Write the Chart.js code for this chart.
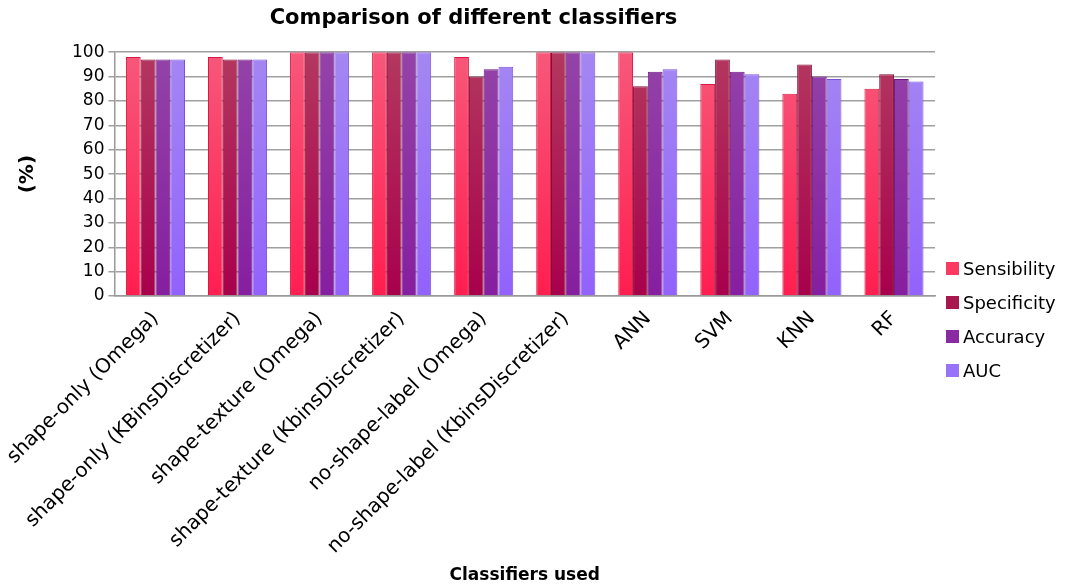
<!DOCTYPE html>
<html>
<head>
<meta charset="utf-8">
<script src="https://cdn.jsdelivr.net/npm/chart.js@4/dist/chart.umd.min.js"></script>
<style>
  html, body { margin: 0; padding: 0; background: #fff; }
  #wrap { position: relative; width: 1072px; height: 587px; }
  #legend { position: absolute; left: 946px; top: 251px; font: 18px 'DejaVu Sans', sans-serif; color: #000; }
  #legend div { height: 34px; display: flex; align-items: center; }
  #legend span.sw { display: inline-block; width: 13px; height: 13px; margin-right: 4px; }
</style>
</head>
<body>
<div id="wrap"><canvas id="chart"></canvas><div id="legend"></div></div>
<script>
// Classifier names (x axis)
const classifiers = [
  "shape-only (Omega)",
  "shape-only (KBinsDiscretizer)",
  "shape-texture (Omega)",
  "shape-texture (KbinsDiscretizer)",
  "no-shape-label (Omega)",
  "no-shape-label (KbinsDiscretizer)",
  "ANN", "SVM", "KNN", "RF"
];

// Scores in percent
const sensibility = [98, 98, 100, 100, 98, 100, 100, 87, 83, 85];
const specificity = [97, 97, 100, 100, 90, 100, 86, 97, 95, 91];
const accuracy    = [97, 97, 100, 100, 93, 100, 92, 92, 90, 89];
const auc         = [97, 97, 100, 100, 94, 100, 93, 91, 89, 88];

const FONT = "'DejaVu Sans', sans-serif";

// vertical gradient for the bars, lighter at the top
function grad(top, bottom) {
  return function (ctx) {
    const area = ctx.chart.chartArea;
    if (!area) return bottom;
    const g = ctx.chart.ctx.createLinearGradient(0, area.top, 0, area.bottom);
    g.addColorStop(0, top);
    g.addColorStop(1, bottom);
    return g;
  };
}

const series = [
  { label: "Sensibility", data: sensibility, top: "#f7587a", bottom: "#ff1e50", edge: "#d81a45", swatch: "#fa3a62" },
  { label: "Specificity", data: specificity, top: "#b3385f", bottom: "#a8004c", edge: "#80103a", swatch: "#a8184e" },
  { label: "Accuracy", data: accuracy, top: "#9443a8", bottom: "#861ea0", edge: "#6a1880", swatch: "#8a2aa2" },
  { label: "AUC", data: auc, top: "#a487f2", bottom: "#9262fc", edge: "#7a52d8", swatch: "#9872f8" }
];

new Chart(document.getElementById("chart").getContext("2d"), {
  type: "bar",
  data: {
    labels: classifiers,
    datasets: series.map(s => ({
      label: s.label,
      data: s.data,
      backgroundColor: grad(s.top, s.bottom),
      borderColor: s.edge
    }))
  },
  options: {
    responsive: true,
    maintainAspectRatio: false,
    animation: false,
    datasets: {
      bar: { categoryPercentage: 0.72, barPercentage: 1.0, borderWidth: 1 }
    },
    layout: { padding: { left: 12, right: 137, top: 0, bottom: 1 } },
    plugins: {
      title: {
        display: true,
        text: "Comparison of different classifiers",
        color: "#000",
        font: { family: FONT, size: 21, weight: "bold" },
        padding: { top: 6, bottom: 21 }
      },
      legend: { display: false },
      tooltip: { enabled: false }
    },
    scales: {
      x: {
        grid: { display: false },
        border: { color: "#999", width: 1.5 },
        ticks: {
          color: "#000",
          font: { family: FONT, size: 20 },
          minRotation: 45,
          maxRotation: 45,
          autoSkip: false
        },
        title: {
          display: true,
          text: "Classifiers used",
          color: "#000",
          font: { family: FONT, size: 17, weight: "bold" },
          padding: { top: 4, bottom: 0 }
        }
      },
      y: {
        min: 0,
        max: 100,
        grid: { color: "#a0a0a0", lineWidth: 1.5, tickLength: 6 },
        border: { color: "#999", width: 1.5 },
        ticks: {
          stepSize: 10,
          color: "#000",
          font: { family: FONT, size: 17 },
          padding: 4
        },
        title: {
          display: true,
          text: "(%)",
          color: "#000",
          font: { family: FONT, size: 20, weight: "bold" },
          padding: { bottom: 28 }
        }
      }
    }
  }
});

// legend as plain text beside the chart
const legend = document.getElementById("legend");
series.forEach(s => {
  const row = document.createElement("div");
  row.innerHTML = '<span class="sw" style="background:' + s.swatch + '"></span>' + s.label;
  legend.appendChild(row);
});
</script>
</body>
</html>
